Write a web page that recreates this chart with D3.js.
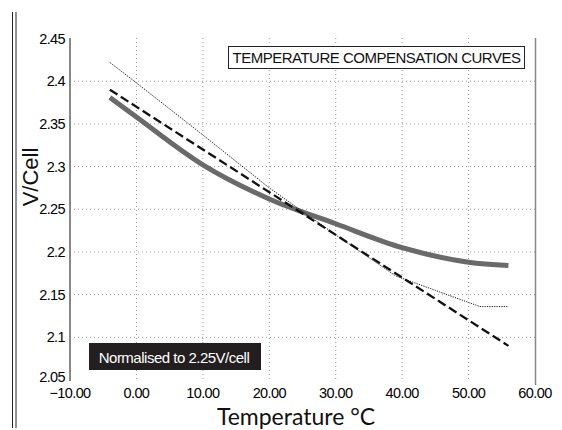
<!DOCTYPE html>
<html>
<head>
<meta charset="utf-8">
<script src="https://cdn.jsdelivr.net/npm/d3@7"></script>
<style>
  body { margin: 0; background: #fff; }
</style>
</head>
<body>
<svg id="chart" width="562" height="430"></svg>
<script>
// chart values
const temps = [-4, 0, 10, 20, 30, 40, 50, 56];
const graySeries = [2.381, 2.358, 2.302, 2.262, 2.233, 2.205, 2.188, 2.184];
const dashTemps = [-4, 56];
const dashSeries = [2.39, 2.09];
const dotTemps = [-4, 0, 10, 20, 30, 39, 45, 51.7, 56];
const dotSeries = [2.422, 2.398, 2.337, 2.275, 2.22, 2.172, 2.155, 2.136, 2.136];
const xTicks = [-10, 0, 10, 20, 30, 40, 50, 60];
const yTicks = [2.05, 2.1, 2.15, 2.2, 2.25, 2.3, 2.35, 2.4, 2.45];
const xGrid = [0, 10, 20, 30, 40, 50];
const yGrid = [2.1, 2.15, 2.2, 2.25, 2.3, 2.35, 2.4];

const svg = d3.select("#chart");

// scales
const x = d3.scaleLinear().domain([-10, 60]).range([70, 535]);
const y = d3.scaleLinear().domain([2.05, 2.45]).range([380, 38.5]);

// double border on the left
[12.5, 16].forEach(px => {
    svg.append("line")
        .attr("x1", px).attr("x2", px)
        .attr("y1", 12).attr("y2", 428)
        .attr("stroke", "#222")
        .attr("stroke-width", 1);
});

// grid lines
svg.selectAll("line.hgrid")
    .data(yGrid)
    .enter()
    .append("line")
    .attr("class", "hgrid")
    .attr("x1", 70).attr("x2", 535)
    .attr("y1", d => y(d)).attr("y2", d => y(d))
    .attr("stroke", "#999")
    .attr("stroke-width", 1)
    .attr("stroke-dasharray", "1,3");

svg.selectAll("line.vgrid")
    .data(xGrid)
    .enter()
    .append("line")
    .attr("class", "vgrid")
    .attr("x1", d => x(d)).attr("x2", d => x(d))
    .attr("y1", 38).attr("y2", 380)
    .attr("stroke", "#999")
    .attr("stroke-width", 1)
    .attr("stroke-dasharray", "1,3");

// left and right frame lines
svg.append("line")
    .attr("x1", 70).attr("x2", 70)
    .attr("y1", 38).attr("y2", 381)
    .attr("stroke", "#888")
    .attr("stroke-width", 2);

svg.append("line")
    .attr("x1", 535.5).attr("x2", 535.5)
    .attr("y1", 38).attr("y2", 385)
    .attr("stroke", "#888")
    .attr("stroke-width", 1.5);

// tick labels
const tickFont = "'Liberation Sans', Arial, sans-serif";
svg.selectAll("text.ytick")
    .data(yTicks)
    .enter()
    .append("text")
    .attr("class", "ytick")
    .attr("x", 65)
    .attr("y", d => y(d) + (d === 2.05 ? 2 : 5))
    .attr("text-anchor", "end")
    .attr("font-family", tickFont)
    .attr("font-size", "14.5px")
    .attr("letter-spacing", "-0.6px")
    .attr("fill", "#000")
    .text(d => d3.format(".2~f")(d));

svg.selectAll("text.xtick")
    .data(xTicks)
    .enter()
    .append("text")
    .attr("class", "xtick")
    .attr("x", d => x(d))
    .attr("y", 398)
    .attr("text-anchor", "middle")
    .attr("font-family", tickFont)
    .attr("font-size", "14.5px")
    .attr("letter-spacing", "-0.6px")
    .attr("fill", "#000")
    .text(d => d3.format(".2f")(d));

// axis titles
svg.append("text")
    .attr("x", 296)
    .attr("y", 425)
    .attr("text-anchor", "middle")
    .attr("font-family", "Lato, 'Open Sans', sans-serif")
    .attr("font-size", "23px")
    .attr("fill", "#111")
    .text("Temperature °C");

svg.append("text")
    .attr("transform", "translate(38,177) rotate(-90)")
    .attr("text-anchor", "middle")
    .attr("font-family", "'Liberation Sans', Arial, sans-serif")
    .attr("font-size", "22px")
    .attr("fill", "#111")
    .text("V/Cell");

// line generator
const line = d3.line()
    .x(d => x(d[0]))
    .y(d => y(d[1]))
    .curve(d3.curveMonotoneX);

// thick gray curve
svg.append("path")
    .datum(d3.zip(temps, graySeries))
    .attr("d", line)
    .attr("fill", "none")
    .attr("stroke", "#6a6a6a")
    .attr("stroke-width", 5);

// dashed straight line
svg.append("path")
    .datum(d3.zip(dashTemps, dashSeries))
    .attr("d", line)
    .attr("fill", "none")
    .attr("stroke", "#111")
    .attr("stroke-width", 2.3)
    .attr("stroke-dasharray", "9,4");

// thin dotted line
svg.append("path")
    .datum(d3.zip(dotTemps, dotSeries))
    .attr("d", d3.line().x(d => x(d[0])).y(d => y(d[1])))
    .attr("fill", "none")
    .attr("stroke", "#111")
    .attr("stroke-width", 1)
    .attr("stroke-dasharray", "1.2,1.2");

// title box
svg.append("rect")
    .attr("x", 228.5).attr("y", 46.5)
    .attr("width", 296).attr("height", 22)
    .attr("fill", "#fff")
    .attr("stroke", "#222")
    .attr("stroke-width", 1);

svg.append("text")
    .attr("x", 376.5)
    .attr("y", 63)
    .attr("text-anchor", "middle")
    .attr("font-family", tickFont)
    .attr("font-size", "15px")
    .attr("letter-spacing", "-0.5px")
    .attr("fill", "#111")
    .text("TEMPERATURE COMPENSATION CURVES");

// note box
svg.append("rect")
    .attr("x", 89).attr("y", 343)
    .attr("width", 172).attr("height", 27)
    .attr("fill", "#231f20");

svg.append("text")
    .attr("x", 174)
    .attr("y", 363)
    .attr("text-anchor", "middle")
    .attr("font-family", tickFont)
    .attr("font-size", "15px")
    .attr("letter-spacing", "-0.5px")
    .attr("fill", "#fff")
    .text("Normalised to 2.25V/cell");
</script>
</body>
</html>
